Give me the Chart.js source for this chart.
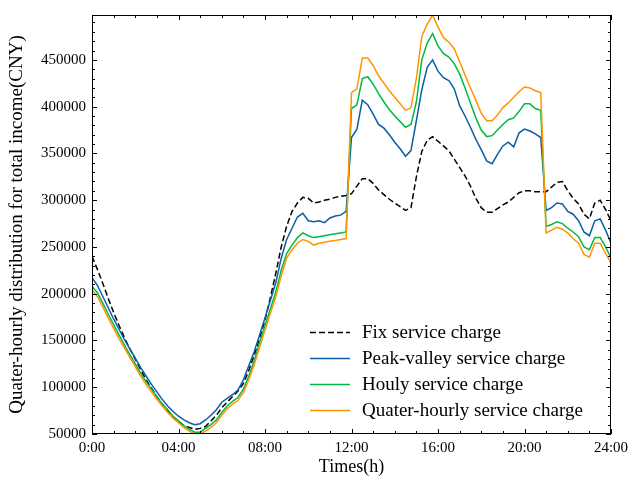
<!DOCTYPE html>
<html>
<head>
<meta charset="utf-8">
<script src="https://cdn.jsdelivr.net/npm/chart.js@4.4.1/dist/chart.umd.min.js"></script>
<style>
  html, body { margin: 0; padding: 0; background: #fff; }
  #chart { display: block; }
</style>
</head>
<body>
<canvas id="chart" width="639" height="483"></canvas>
<script>
// Time slots (hours), one per quarter hour
const hours = [
  0, 0.25, 0.5, 0.75, 1, 1.25, 1.5, 1.75, 2, 2.25, 2.5, 2.75,
  3, 3.25, 3.5, 3.75, 4, 4.25, 4.5, 4.75, 5, 5.25, 5.5, 5.75,
  6, 6.25, 6.5, 6.75, 7, 7.25, 7.5, 7.75, 8, 8.25, 8.5, 8.75,
  9, 9.25, 9.5, 9.75, 10, 10.25, 10.5, 10.75, 11, 11.25, 11.5, 11.75,
  12, 12.25, 12.5, 12.75, 13, 13.25, 13.5, 13.75, 14, 14.25, 14.5, 14.75,
  15, 15.25, 15.5, 15.75, 16, 16.25, 16.5, 16.75, 17, 17.25, 17.5, 17.75,
  18, 18.25, 18.5, 18.75, 19, 19.25, 19.5, 19.75, 20, 20.25, 20.5, 20.75,
  21, 21.25, 21.5, 21.75, 22, 22.25, 22.5, 22.75, 23, 23.25, 23.5, 23.75, 24
];

const xTickLabels = ['0:00', '04:00', '08:00', '12:00', '16:00', '20:00', '24:00'];
const yTickValues = [50000, 100000, 150000, 200000, 250000, 300000, 350000, 400000, 450000];
const seriesLabels = ['Fix service charge', 'Peak-valley service charge', 'Houly service charge', 'Quater-hourly service charge'];

const fixCharge = [
  240000, 226000, 211000, 195000, 180000, 166000, 153000, 141000, 130000, 119000, 108000, 99000,
  90000, 82000, 75000, 68000, 63000, 59000, 57000, 55000, 56000, 58000, 64000, 70000,
  78000, 84000, 90000, 96000, 104000, 118000, 134000, 152000, 172000, 196000, 222000, 250000,
  272000, 288000, 297000, 303000, 302000, 297000, 298000, 300000, 301000, 303000, 304000, 305000,
  307000, 315000, 323000, 323000, 318000, 311000, 306000, 301000, 297000, 293000, 289000, 292000,
  325000, 352000, 364000, 368000, 363000, 358000, 353000, 344000, 335000, 326000, 315000, 302000,
  292000, 287000, 287000, 291000, 295000, 298000, 303000, 308000, 310000, 310000, 309000, 309000,
  309000, 314000, 319000, 320000, 310000, 302000, 296000, 285000, 280000, 297000, 300000, 290000, 278000
];

const peakValley = [
  217000, 209000, 197000, 185000, 173000, 162000, 151000, 141000, 131000, 121000, 112000, 103000,
  95000, 87000, 80000, 74000, 69000, 65000, 62000, 60000, 61000, 65000, 70000, 76000,
  84000, 88000, 92000, 97000, 108000, 123000, 138000, 156000, 174000, 193000, 212000, 238000,
  258000, 270000, 282000, 286000, 278000, 277000, 278000, 276000, 281000, 283000, 284000, 288000,
  367000, 376000, 407000, 402000, 392000, 381000, 377000, 370000, 362000, 355000, 347000, 353000,
  385000, 418000, 442000, 450000, 438000, 431000, 428000, 419000, 401000, 390000, 378000, 365000,
  354000, 342000, 339000, 349000, 358000, 362000, 357000, 372000, 376000, 374000, 371000, 367000,
  289000, 292000, 297000, 296000, 288000, 285000, 278000, 266000, 262000, 278000, 280000, 268000, 254000
];

const hourly = [
  208000, 201000, 190000, 178000, 167000, 156000, 145000, 135000, 125000, 115000, 106000, 98000,
  90000, 82000, 76000, 69000, 64000, 59000, 55000, 52000, 52000, 56000, 60000, 65000,
  73000, 80000, 85000, 89000, 98000, 112000, 128000, 148000, 166000, 184000, 202000, 225000,
  243000, 252000, 260000, 265000, 262000, 260000, 261000, 262000, 263000, 264000, 265000, 266000,
  398000, 402000, 430000, 432000, 424000, 414000, 405000, 397000, 390000, 384000, 378000, 381000,
  405000, 450000, 468000, 478000, 465000, 457000, 453000, 446000, 435000, 420000, 404000, 388000,
  375000, 368000, 369000, 375000, 381000, 386000, 388000, 395000, 403000, 403000, 398000, 396000,
  272000, 274000, 277000, 275000, 270000, 266000, 261000, 250000, 247000, 260000, 260000, 250000, 238000
];

const quarterHourly = [
  204000, 197000, 186000, 174000, 163000, 152000, 142000, 132000, 122000, 112000, 103000, 95000,
  87000, 80000, 73000, 67000, 62000, 57000, 53000, 50000, 50000, 53000, 57000, 62000,
  70000, 77000, 82000, 86000, 94000, 108000, 124000, 143000, 161000, 179000, 197000, 219000,
  238000, 247000, 254000, 258000, 256000, 252000, 254000, 255000, 256000, 257000, 258000, 259000,
  415000, 419000, 452000, 452000, 444000, 433000, 425000, 417000, 410000, 403000, 396000, 399000,
  430000, 475000, 488000, 498000, 485000, 474000, 469000, 462000, 448000, 434000, 420000, 407000,
  393000, 385000, 385000, 391000, 399000, 404000, 410000, 416000, 421000, 420000, 417000, 415000,
  265000, 268000, 271000, 269000, 265000, 259000, 254000, 242000, 239000, 254000, 254000, 243000, 233000
];

const SERIF = "'Liberation Serif', 'Times New Roman', serif";

function toPoints(values) {
  return values.map((v, i) => ({ x: hours[i], y: v }));
}

// Inward ticks on all four sides plus the frame (matplotlib "science" look)
const frameTicks = {
  id: 'frameTicks',
  afterDatasetsDraw(chart) {
    const { ctx, chartArea: a, scales: { x, y } } = chart;
    ctx.save();
    ctx.strokeStyle = '#000';
    ctx.lineWidth = 1;
    ctx.setLineDash([]);
    ctx.beginPath();
    for (let h = 0; h <= 24; h++) {
      const px = Math.round(x.getPixelForValue(h)) + 0.5;
      const len = h % 4 === 0 ? 5 : 3;
      ctx.moveTo(px, a.bottom); ctx.lineTo(px, a.bottom - len);
      ctx.moveTo(px, a.top); ctx.lineTo(px, a.top + len);
    }
    for (let v = 50000; v <= y.max; v += 10000) {
      const py = Math.round(y.getPixelForValue(v)) + 0.5;
      const len = v % 50000 === 0 ? 5 : 3;
      ctx.moveTo(a.left, py); ctx.lineTo(a.left + len, py);
      ctx.moveTo(a.right, py); ctx.lineTo(a.right - len, py);
    }
    ctx.stroke();
    ctx.strokeRect(Math.round(a.left) + 0.5, Math.round(a.top) + 0.5,
                   Math.round(a.width) - 1, Math.round(a.height) - 1);
    ctx.restore();
  }
};

// Legend inside the lower right corner of the plot
const innerLegend = {
  id: 'innerLegend',
  afterDraw(chart) {
    const { ctx, chartArea: a } = chart;
    const x0 = a.right - 301;
    const y0 = a.bottom - 102;
    ctx.save();
    ctx.font = '19px ' + SERIF;
    ctx.textBaseline = 'middle';
    ctx.textAlign = 'left';
    chart.data.datasets.forEach((ds, i) => {
      const yy = Math.round(y0 + i * 26) + 0.5;
      ctx.strokeStyle = ds.borderColor;
      ctx.lineWidth = ds.borderWidth;
      ctx.setLineDash(ds.borderDash || []);
      ctx.beginPath();
      ctx.moveTo(x0, yy);
      ctx.lineTo(x0 + 40, yy);
      ctx.stroke();
      ctx.fillStyle = '#000';
      ctx.fillText(ds.label, x0 + 52, yy + 1);
    });
    ctx.restore();
  }
};

Chart.defaults.font.family = SERIF;
Chart.defaults.color = '#000';

new Chart(document.getElementById('chart'), {
  type: 'line',
  data: {
    datasets: [
      { label: seriesLabels[0], data: toPoints(fixCharge), borderColor: '#000000', borderDash: [6, 3], borderWidth: 1.5, order: 4 },
      { label: seriesLabels[1], data: toPoints(peakValley), borderColor: '#0C5DA5', borderWidth: 1.5, order: 3 },
      { label: seriesLabels[2], data: toPoints(hourly), borderColor: '#00B945', borderWidth: 1.5, order: 2 },
      { label: seriesLabels[3], data: toPoints(quarterHourly), borderColor: '#FF9500', borderWidth: 1.5, order: 1 }
    ]
  },
  options: {
    responsive: false,
    animation: false,
    devicePixelRatio: 1,
    layout: { padding: { left: 0, right: 28, top: 8, bottom: 0 } },
    elements: { point: { radius: 0 }, line: { tension: 0 } },
    plugins: { legend: { display: false }, tooltip: { enabled: false } },
    scales: {
      x: {
        type: 'linear',
        min: 0,
        max: 24,
        grid: { display: false, drawTicks: false },
        border: { display: false },
        ticks: {
          stepSize: 4,
          autoSkip: false,
          maxRotation: 0,
          padding: 5,
          font: { size: 15 },
          callback: v => xTickLabels[v / 4]
        },
        title: { display: true, text: 'Times(h)', font: { size: 18 }, padding: { top: 0, bottom: 5 } },
        afterFit: s => { s.height = 49; }
      },
      y: {
        min: 50000,
        max: 498000,
        grid: { display: false, drawTicks: false },
        border: { display: false },
        afterBuildTicks: s => { s.ticks = yTickValues.map(v => ({ value: v })); },
        ticks: {
          autoSkip: false,
          padding: 6,
          font: { size: 15 },
          callback: v => String(v)
        },
        title: { display: true, text: 'Quater-hourly distribution for total income(CNY)', font: { size: 19 }, padding: { top: 6, bottom: 0 } },
        afterFit: s => { s.width = 92; }
      }
    }
  },
  plugins: [frameTicks, innerLegend]
});
</script>
</body>
</html>
